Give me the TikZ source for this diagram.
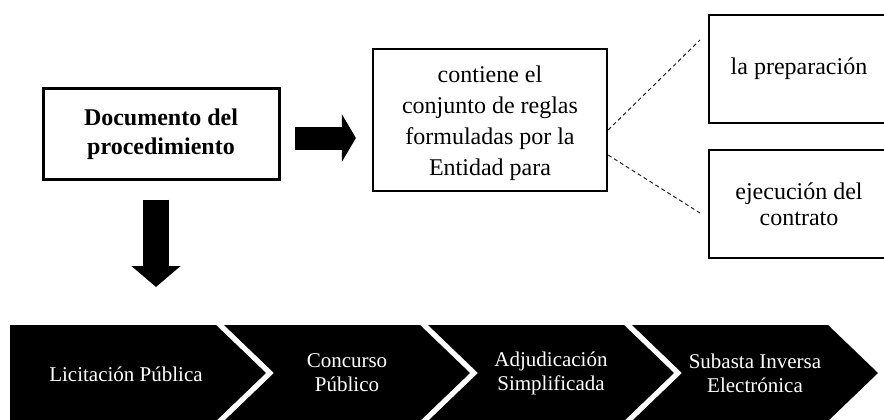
\documentclass[tikz,border=0pt]{standalone}
\usepackage{fontspec}
\setmainfont{Liberation Serif}
\usetikzlibrary{arrows.meta}
\tikzset{
  caja/.style={draw, line width=2.2pt, align=center, inner sep=0pt},
  flecha/.style={line width=23pt, -{Triangle[length=14pt,width=47pt]}},
  punteado/.style={line width=1pt, black!85, dash pattern=on 4pt off 3pt},
  fase/.style={text=white, align=center, font=\fontsize{21}{24}\selectfont},
}
\begin{document}
\begin{tikzpicture}[x=1pt,y=-1pt]
  \useasboundingbox (0,0) rectangle (884,420);
  \node[caja, line width=3pt, minimum width=236pt, minimum height=90pt,
        font=\bfseries\fontsize{24}{29}\selectfont] (doc) at (161,134) {Documento del\\procedimiento};
  \node[caja, minimum width=234pt, minimum height=142pt,
        font=\fontsize{24}{31}\selectfont] (cont) at (490,120) {\rule{0pt}{24pt}contiene el\\conjunto de reglas\\formuladas por la\\Entidad para};
  \node[caja, minimum width=180pt, minimum height=108pt,
        font=\fontsize{24}{28}\selectfont] (prep) at (799,69) {la preparación};
  \node[caja, minimum width=180pt, minimum height=108pt,
        font=\fontsize{24}{26}\selectfont] (ejec) at (799,204) {ejecución del\\contrato};
  \coordinate (d1) at (700,40);
  \coordinate (d2) at (700,213);
  \coordinate (fila) at (156,325);
  \draw[flecha, shorten <=14pt, shorten >=16pt] ([yshift=-4pt]doc.east) -- ([yshift=-4pt]doc.east -| cont.west);
  \draw[flecha, line width=26pt, -{Triangle[length=21pt,width=48pt]}, shorten <=19pt, shorten >=38pt]
    ([xshift=-5pt]doc.south) -- (fila);
  \draw[punteado] ([yshift=-10pt]cont.east) -- (d1);
  \draw[punteado] ([yshift=-35pt]cont.east) -- (d2);
  % etapas
  \fill (10,325) -- (216,325) -- (266,373) -- (216,421) -- (10,421) -- cycle;
  \foreach \x in {224,428,632}
    \fill (\x,325) -- ++(196,0) -- ++(50,48) -- ++(-50,48) -- ++(-196,0) -- ++(50,-48) -- cycle;
  \node[fase] (f1) at (126,374) {Licitación Pública};
  \node[fase] (f2) at (347,373) {Concurso\\Público};
  \node[fase] (f3) at (551,373) {Adjudicación\\Simplificada};
  \node[fase] (f4) at (755,373) {Subasta Inversa\\Electrónica};
\end{tikzpicture}
\end{document}
